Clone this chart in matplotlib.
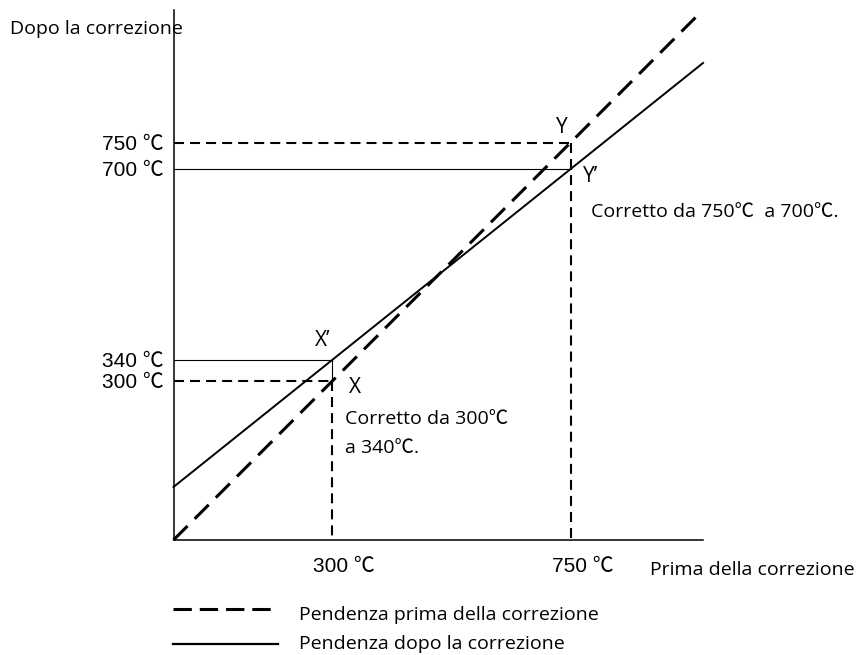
import matplotlib
matplotlib.use('Agg')
import matplotlib.pyplot as plt
from matplotlib import font_manager
from matplotlib.transforms import ScaledTranslation

# values (degrees C)
before_ticks = [300, 750]
after_ticks = [300, 340, 700, 750]
before_labels = ['300 ℃', '750 ℃']
after_labels = ['300 ℃', '340 ℃', '700 ℃', '750 ℃']

slope_before_x = [0, 995]
slope_before_y = [0, 995]
slope_after_x = [0, 1000]
slope_after_y = [100, 900]

pt_x = [300, 300]       # X, X'
pt_y = [300, 340]
pt2_x = [750, 750]      # Y, Y'
pt2_y = [750, 700]

AX_MAX = 1000

names = {f.name for f in font_manager.fontManager.ttflist}
tick_font = 'Liberation Sans Narrow' if 'Liberation Sans Narrow' in names else 'Liberation Sans'
TICKFAM = [tick_font, 'Noto Sans CJK JP', 'DejaVu Sans']
TXTFAM = ['Open Sans', 'Noto Sans CJK JP', 'DejaVu Sans']

W, H = 859, 655
fig = plt.figure(figsize=(W / 100, H / 100), dpi=100)

# main axes: origin at px (173.5, 540), top right at (703, 10)
ax = fig.add_axes([173.5 / W, (H - 540) / H, (703 - 173.5) / W, (540 - 10) / H])
ax.set_xlim(0, AX_MAX)
ax.set_ylim(0, AX_MAX)
for s in ['top', 'right']:
    ax.spines[s].set_visible(False)
for s in ['left', 'bottom']:
    ax.spines[s].set_linewidth(1.1)

ax.set_xticks(before_ticks, before_labels, family=TICKFAM, fontsize=15)
ax.set_yticks(after_ticks, after_labels, family=TICKFAM, fontsize=15)
ax.tick_params(axis='both', length=0)
ax.tick_params(axis='x', pad=12)
ax.tick_params(axis='y', pad=7)
for lbl in ax.get_xticklabels():
    lbl.set_transform(lbl.get_transform() + ScaledTranslation(0.12, 0, fig.dpi_scale_trans))

# slopes
ax.plot(slope_before_x, slope_before_y, color='black', lw=2.2, dashes=(6.5, 3.3),
        solid_capstyle='butt', clip_on=False)
ax.plot(slope_after_x, slope_after_y, color='black', lw=1.4, clip_on=False)

# guide lines at X / X'
ax.plot([0, pt_x[1]], [pt_y[1], pt_y[1]], color='black', lw=0.8)
ax.plot([pt_x[1], pt_x[1]], [pt_y[1], pt_y[0]], color='black', lw=0.8)
ax.plot([0, pt_x[0]], [pt_y[0], pt_y[0]], color='black', lw=1.5, dashes=(4.8, 2.9))
ax.plot([pt_x[0], pt_x[0]], [pt_y[0], 0], color='black', lw=1.5, dashes=(4.8, 2.9))

# guide lines at Y / Y'
ax.plot([0, pt2_x[1]], [pt2_y[1], pt2_y[1]], color='black', lw=0.8)
ax.plot([0, pt2_x[0]], [pt2_y[0], pt2_y[0]], color='black', lw=1.5, dashes=(4.8, 2.9))
ax.plot([pt2_x[0], pt2_x[0]], [pt2_y[0], 0], color='black', lw=1.5, dashes=(4.8, 2.9))

# overlay in pixel coordinates for the free text and the key
ov = fig.add_axes([0, 0, 1, 1], facecolor='none')
ov.set_xlim(0, W)
ov.set_ylim(H, 0)
ov.axis('off')

fs = 14
ov.text(10, 34, 'Dopo la correzione', family=TXTFAM, fontsize=fs, va='baseline')
ov.text(650, 575, 'Prima della correzione', family=TXTFAM, fontsize=fs, va='baseline')
ov.text(562, 133, 'Y', family=TXTFAM, fontsize=fs + 1, va='baseline', ha='center')
ov.text(583, 182, 'Y’', family=TXTFAM, fontsize=fs + 1, va='baseline')
ov.text(591, 217, 'Corretto da 750℃  a 700℃.', family=TXTFAM, fontsize=fs, va='baseline')
ov.text(323, 346, 'X’', family=TXTFAM, fontsize=fs + 1, va='baseline', ha='center')
ov.text(349, 393, 'X', family=TXTFAM, fontsize=fs + 1, va='baseline')
ov.text(345, 424, 'Corretto da 300℃', family=TXTFAM, fontsize=fs, va='baseline')
ov.text(345, 453, 'a 340℃.', family=TXTFAM, fontsize=fs, va='baseline')

# key
ov.plot([173, 272], [609, 609], color='black', lw=2.2, dashes=(6.0, 2.6))
ov.plot([173, 278], [644, 644], color='black', lw=1.6)
ov.text(299, 620, 'Pendenza prima della correzione', family=TXTFAM, fontsize=fs, va='baseline')
ov.text(299, 649, 'Pendenza dopo la correzione', family=TXTFAM, fontsize=fs, va='baseline')

fig.savefig('out.png', dpi=100)
